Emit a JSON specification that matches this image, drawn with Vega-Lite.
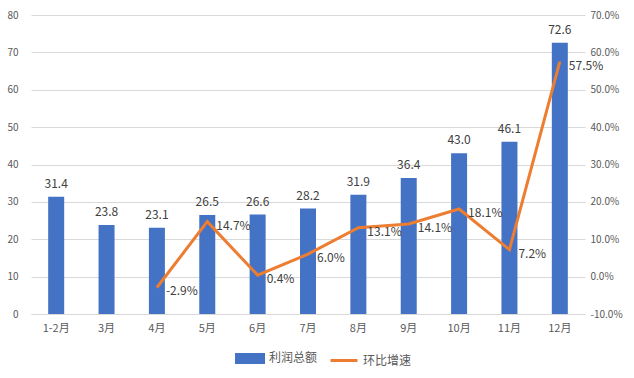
{
  "$schema": "https://vega.github.io/schema/vega-lite/v6.json",
  "width": 554,
  "height": 299,
  "autosize": {"type": "none"},
  "padding": {"left": 31, "top": 15, "right": 49, "bottom": 64},
  "background": "#ffffff",
  "config": {
    "view": {"stroke": null},
    "font": "Noto Sans CJK SC",
    "locale": {"number": {"decimal": ".", "thousands": ",", "grouping": [3], "currency": ["", ""], "minus": "-"}},
    "axis": {"labelFont": "Noto Sans CJK SC", "labelColor": "#595959", "labelFontSize": 10}
  },
  "data": {
    "values": [
      {"month": "1-2月", "profit": 31.4, "growth": null},
      {"month": "3月", "profit": 23.8, "growth": null},
      {"month": "4月", "profit": 23.1, "growth": -0.029},
      {"month": "5月", "profit": 26.5, "growth": 0.147},
      {"month": "6月", "profit": 26.6, "growth": 0.004},
      {"month": "7月", "profit": 28.2, "growth": 0.060},
      {"month": "8月", "profit": 31.9, "growth": 0.131},
      {"month": "9月", "profit": 36.4, "growth": 0.141},
      {"month": "10月", "profit": 43.0, "growth": 0.181},
      {"month": "11月", "profit": 46.1, "growth": 0.072},
      {"month": "12月", "profit": 72.6, "growth": 0.575}
    ]
  },
  "encoding": {
    "x": {
      "field": "month", "type": "nominal", "sort": null, "title": null,
      "scale": {"paddingInner": 0, "paddingOuter": 0},
      "axis": {"labelAngle": 0, "ticks": false, "domainColor": "#d9d9d9", "labelPadding": 8, "labelFontSize": 11}
    },
    "color": {
      "scale": {"domain": ["利润总额", "环比增速"], "range": ["#4472C4", "#ED7D31"]},
      "legend": {
        "title": null, "orient": "none", "direction": "horizontal", "legendX": 204, "legendY": 328,
        "labelFontSize": 12, "labelColor": "#595959", "labelFont": "Noto Sans CJK SC",
        "symbolSize": 729, "labelOffset": 4, "columnPadding": 6,
        "encode": {
          "symbols": {
            "update": {
              "shape": {"signal": "datum.value == '利润总额' ? 'M-1,-0.3H1V0.3H-1Z' : 'M-1,0H1'"},
              "fill": {"signal": "datum.value == '利润总额' ? '#4472C4' : 'transparent'"},
              "stroke": {"signal": "datum.value == '利润总额' ? 'transparent' : '#ED7D31'"},
              "strokeWidth": {"value": 3}
            }
          }
        }
      }
    }
  },
  "layer": [
    {
      "encoding": {
        "y": {
          "field": "profit", "type": "quantitative", "title": null,
          "scale": {"domain": [0, 80], "nice": false},
          "axis": {"values": [0, 10, 20, 30, 40, 50, 60, 70, 80], "labelOverlap": false, "ticks": false, "domain": false, "gridColor": "#d9d9d9", "labelPadding": 13}
        }
      },
      "layer": [
        {
          "mark": {"type": "bar", "width": 16},
          "encoding": {"color": {"datum": "利润总额"}}
        },
        {
          "mark": {"type": "text", "dy": -13, "fontSize": 12, "color": "#404040", "font": "Noto Sans CJK SC"},
          "encoding": {"text": {"field": "profit", "type": "quantitative", "format": ".1f"}}
        }
      ]
    },
    {
      "transform": [{"filter": "isValid(datum.growth)"}],
      "encoding": {
        "y": {
          "field": "growth", "type": "quantitative", "title": null,
          "scale": {"domain": [-0.1, 0.7], "nice": false},
          "axis": {"orient": "right", "format": ".1%", "values": [-0.1, 0, 0.1, 0.2, 0.3, 0.4, 0.5, 0.6, 0.7], "labelOverlap": false, "grid": false, "ticks": false, "domain": false, "labelPadding": 5}
        }
      },
      "layer": [
        {
          "mark": {"type": "line", "strokeWidth": 3},
          "encoding": {"color": {"datum": "环比增速"}}
        },
        {
          "mark": {"type": "text", "align": "left", "baseline": "middle", "dx": 9, "dy": 4, "fontSize": 12, "color": "#404040", "font": "Noto Sans CJK SC"},
          "encoding": {"text": {"field": "growth", "type": "quantitative", "format": ".1%"}}
        }
      ]
    }
  ],
  "resolve": {"scale": {"y": "independent"}}
}
